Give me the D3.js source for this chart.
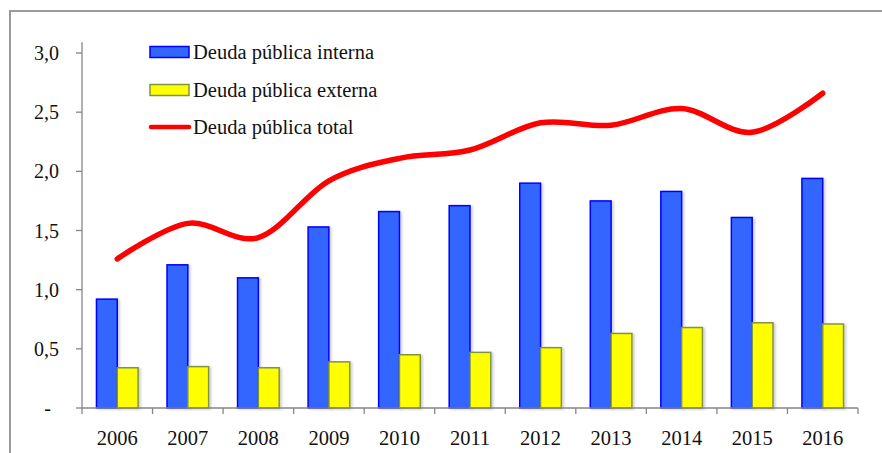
<!DOCTYPE html>
<html>
<head>
<meta charset="utf-8">
<script src="https://cdn.jsdelivr.net/npm/d3@7/dist/d3.min.js"></script>
<style>
  body { margin: 0; background: #fff; }
  svg text { font-family: "Liberation Serif", "DejaVu Serif", serif; fill: #111; }
</style>
</head>
<body>
<div id="chart"></div>
<script>
"use strict";
// données
const annees = ["2006","2007","2008","2009","2010","2011","2012","2013","2014","2015","2016"];
const interne = [0.92,1.21,1.10,1.53,1.66,1.71,1.90,1.75,1.83,1.61,1.94];
const externe = [0.34,0.35,0.34,0.39,0.45,0.47,0.51,0.63,0.68,0.72,0.71];
const total   = [1.26,1.56,1.44,1.92,2.11,2.18,2.41,2.39,2.53,2.33,2.66];
const yTicks  = [0,0.5,1,1.5,2,2.5,3];
const series  = ["Deuda pública interna","Deuda pública externa","Deuda pública total"];

const W = 882, H = 453;
const m = {left: 82, right: 24, top: 53, bottom: 45};

const svg = d3.select("#chart").append("svg").attr("width", W).attr("height", H);

const defs = svg.append("defs");
const f = defs.append("filter").attr("id","ombre").attr("x","-20%").attr("y","-5%").attr("width","150%").attr("height","120%");
f.append("feDropShadow").attr("dx",2).attr("dy",1).attr("stdDeviation",1.2)
  .attr("flood-color","#000").attr("flood-opacity",0.18);

// cadre extérieur
svg.append("rect").attr("x",10).attr("y",11).attr("width",W).attr("height",H)
  .attr("fill","none").attr("stroke","#9a9a9a").attr("stroke-width",2);

const x = d3.scaleBand().domain(annees).range([m.left, W - m.right]);
const y = d3.scaleLinear().domain([0,3]).range([H - m.bottom, m.top]);
const bw = x.bandwidth() * 0.295;

// axe y
const gy = svg.append("g").attr("transform",`translate(${m.left},0)`);
gy.append("line").attr("y1", y(3.09)).attr("y2", y(0)).attr("stroke","#868686").attr("stroke-width",1.3);
gy.selectAll(".tk").data(yTicks).enter().append("line")
  .attr("x1",-6).attr("x2",0).attr("y1",d=>y(d)).attr("y2",d=>y(d))
  .attr("stroke","#868686").attr("stroke-width",1.3);
gy.selectAll("text").data(yTicks).enter().append("text")
  .attr("x", d => d === 0 ? -31 : -23)
  .attr("y", d => y(d))
  .attr("dy","0.35em")
  .attr("text-anchor","end")
  .style("font-size","20px")
  .text(d => d === 0 ? "-" : d3.format(".1f")(d).replace(".", ","));

// barres
const gb = svg.append("g");
gb.selectAll(".int").data(annees).enter().append("rect")
  .attr("x", (d) => x(d) + x.bandwidth()/2 - bw)
  .attr("y", (d,i) => y(interne[i]))
  .attr("width", bw).attr("height", (d,i) => y(0) - y(interne[i]))
  .attr("fill","#3366ff").attr("stroke","#0000ff").attr("stroke-width",1.5)
  .attr("filter","url(#ombre)");
gb.selectAll(".ext").data(annees).enter().append("rect")
  .attr("x", (d) => x(d) + x.bandwidth()/2)
  .attr("y", (d,i) => y(externe[i]))
  .attr("width", bw).attr("height", (d,i) => y(0) - y(externe[i]))
  .attr("fill","#ffff00").attr("stroke","#7f9440").attr("stroke-width",1.5)
  .attr("filter","url(#ombre)");

// axe x
const gx = svg.append("g").attr("transform",`translate(0,${y(0)})`);
gx.append("line").attr("x1", m.left).attr("x2", W - m.right).attr("stroke","#868686").attr("stroke-width",1.3);
const bornes = annees.map(d => x(d)).concat([x(annees[annees.length-1]) + x.step()]);
gx.selectAll(".tk").data(bornes).enter().append("line")
  .attr("x1", d => d).attr("x2", d => d).attr("y1",0).attr("y2",6)
  .attr("stroke","#868686").attr("stroke-width",1.3);
gx.selectAll("text").data(annees).enter().append("text")
  .attr("x", d => x(d) + x.bandwidth()/2)
  .attr("y", 37)
  .attr("text-anchor","middle")
  .style("font-size","20.5px")
  .text(d => d);

// courbe totale
const ligne = d3.line()
  .x((d,i) => x(annees[i]) + x.bandwidth()/2)
  .y(d => y(d))
  .curve(d3.curveCardinal.tension(0));
svg.append("path").datum(total).attr("d", ligne)
  .attr("fill","none").attr("stroke","#ff0000").attr("stroke-width",5.5)
  .attr("stroke-linecap","round").attr("stroke-linejoin","round");

// légende
const lg = svg.append("g").attr("transform","translate(150,0)");
const rows = [52, 90, 127];
lg.append("rect").attr("x",0).attr("y",rows[0]-5.5).attr("width",39).attr("height",11)
  .attr("fill","#3366ff").attr("stroke","#0000ff").attr("stroke-width",1.5);
lg.append("rect").attr("x",0).attr("y",rows[1]-5.5).attr("width",39).attr("height",11)
  .attr("fill","#ffff00").attr("stroke","#7f9440").attr("stroke-width",1.5);
lg.append("line").attr("x1",1).attr("x2",39).attr("y1",rows[2]).attr("y2",rows[2])
  .attr("stroke","#ff0000").attr("stroke-width",4.5).attr("stroke-linecap","round");
lg.selectAll("text").data(series).enter().append("text")
  .attr("x",43).attr("y",(d,i) => rows[i]).attr("dy","0.35em")
  .style("font-size","20.5px")
  .text(d => d);
</script>
</body>
</html>
